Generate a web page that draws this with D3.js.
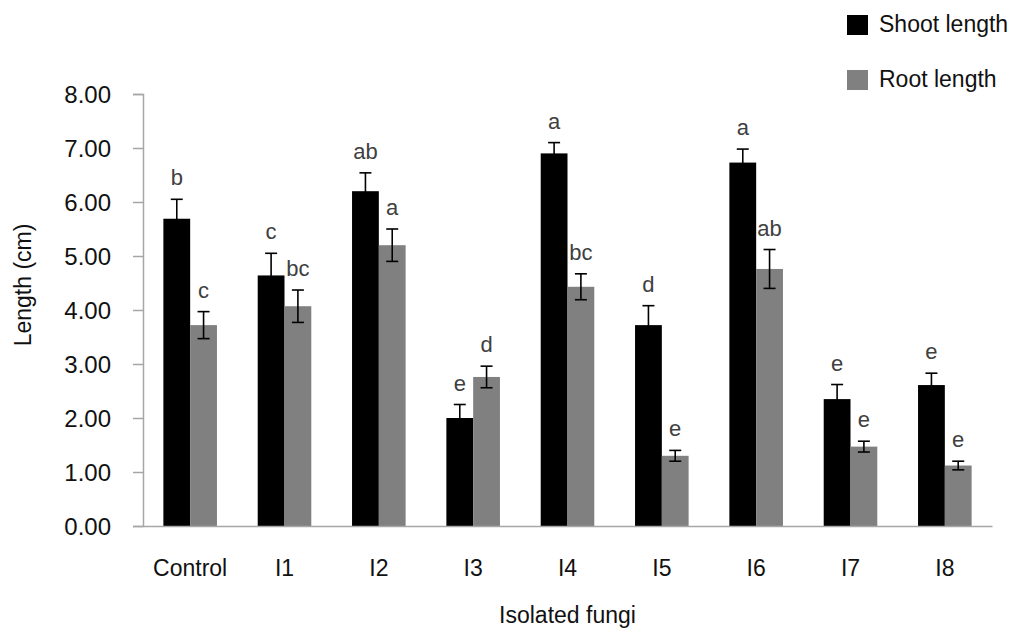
<!DOCTYPE html>
<html>
<head>
<meta charset="utf-8">
<script src="https://cdn.jsdelivr.net/npm/d3@7"></script>
<style>
  html, body { margin: 0; padding: 0; background: #fff; }
  svg { display: block; font-family: "Liberation Sans", Arial, sans-serif; }
</style>
</head>
<body>
<svg id="chart" width="1018" height="633"></svg>
<script>
const categories = ["Control", "I1", "I2", "I3", "I4", "I5", "I6", "I7", "I8"];
const seriesNames = ["Shoot length", "Root length"];
const shootValues = [5.69, 4.64, 6.20, 2.00, 6.90, 3.72, 6.73, 2.35, 2.61];
const shootErrors = [0.36, 0.41, 0.34, 0.25, 0.20, 0.36, 0.25, 0.27, 0.22];
const rootValues  = [3.72, 4.07, 5.20, 2.76, 4.43, 1.30, 4.76, 1.47, 1.12];
const rootErrors  = [0.25, 0.30, 0.30, 0.20, 0.24, 0.10, 0.36, 0.10, 0.08];
const shootLetters = ["b", "c", "ab", "e", "a", "d", "a", "e", "e"];
const rootLetters  = ["c", "bc", "a", "d", "bc", "e", "ab", "e", "e"];
const yTicks = [0, 1, 2, 3, 4, 5, 6, 7, 8];
const colors = ["#000000", "#808080"];

const svg = d3.select("#chart");
const mLeft = 143, mRight = 992, mTop = 94, mBottom = 526;

const x = d3.scaleBand().domain(categories).range([mLeft, mRight]).paddingInner(0.432).paddingOuter(0.216);
const xs = d3.scaleBand().domain(seriesNames).range([0, x.bandwidth()]).padding(0);
const y = d3.scaleLinear().domain([0, 8]).range([mBottom, mTop]);

const rows = categories.map((c, i) => [
  { cat: c, s: seriesNames[0], v: shootValues[i], e: shootErrors[i], l: shootLetters[i], col: colors[0] },
  { cat: c, s: seriesNames[1], v: rootValues[i], e: rootErrors[i], l: rootLetters[i], col: colors[1] }
]).flat();

// y axis
const yAxis = d3.axisLeft(y).tickValues(yTicks).tickSize(10).tickPadding(22).tickFormat(d3.format(".2f"));
const gy = svg.append("g").attr("transform", `translate(${mLeft},0)`).call(yAxis);
gy.select(".domain").attr("stroke", "#a6a6a6").attr("stroke-width", 1.5);
gy.selectAll(".tick line").attr("stroke", "#a6a6a6").attr("stroke-width", 1.5);
gy.selectAll(".tick text").attr("fill", "#111").style("font-size", "24px").attr("dy", "0.35em");

// bars
svg.append("g").selectAll("rect").data(rows).join("rect")
  .attr("x", d => x(d.cat) + xs(d.s))
  .attr("y", d => y(d.v))
  .attr("width", xs.bandwidth())
  .attr("height", d => y(0) - y(d.v))
  .attr("fill", d => d.col);

// x axis line
const xAxis = d3.axisBottom(x).tickSize(0).tickPadding(34);
const gx = svg.append("g").attr("transform", `translate(0,${mBottom})`).call(xAxis);
gx.select(".domain").attr("stroke", "#a6a6a6").attr("stroke-width", 1.5);
gx.selectAll(".tick text").attr("fill", "#111").style("font-size", "23px");

// error bars
const eb = svg.append("g").attr("stroke", "#000").attr("stroke-width", 1.6);
rows.forEach(d => {
  const cx = x(d.cat) + xs(d.s) + xs.bandwidth() / 2;
  const y1 = y(d.v + d.e), y2 = y(d.v - d.e);
  eb.append("line").attr("x1", cx).attr("x2", cx).attr("y1", y1).attr("y2", y2);
  eb.append("line").attr("x1", cx - 6).attr("x2", cx + 6).attr("y1", y1).attr("y2", y1);
  eb.append("line").attr("x1", cx - 6).attr("x2", cx + 6).attr("y1", y2).attr("y2", y2);
});

// significance letters
svg.append("g").selectAll("text").data(rows).join("text")
  .attr("x", d => x(d.cat) + xs(d.s) + xs.bandwidth() / 2)
  .attr("y", d => y(d.v + d.e) - 14)
  .attr("text-anchor", "middle")
  .attr("fill", "#404040")
  .style("font-size", "22px")
  .text(d => d.l);

// axis titles
svg.append("text")
  .attr("transform", `translate(31,285) rotate(-90)`)
  .attr("text-anchor", "middle")
  .attr("fill", "#111")
  .style("font-size", "23px")
  .text("Length (cm)");

svg.append("text")
  .attr("x", (mLeft + mRight) / 2)
  .attr("y", 623)
  .attr("text-anchor", "middle")
  .attr("fill", "#111")
  .style("font-size", "23px")
  .text("Isolated fungi");

// legend
const lg = svg.append("g");
seriesNames.forEach((n, i) => {
  lg.append("rect").attr("x", 847).attr("y", 15 + i * 55).attr("width", 21).attr("height", 20).attr("fill", colors[i]);
  lg.append("text").attr("x", 879).attr("y", 32 + i * 55).attr("fill", "#111").style("font-size", "23px").text(n);
});
</script>
</body>
</html>
